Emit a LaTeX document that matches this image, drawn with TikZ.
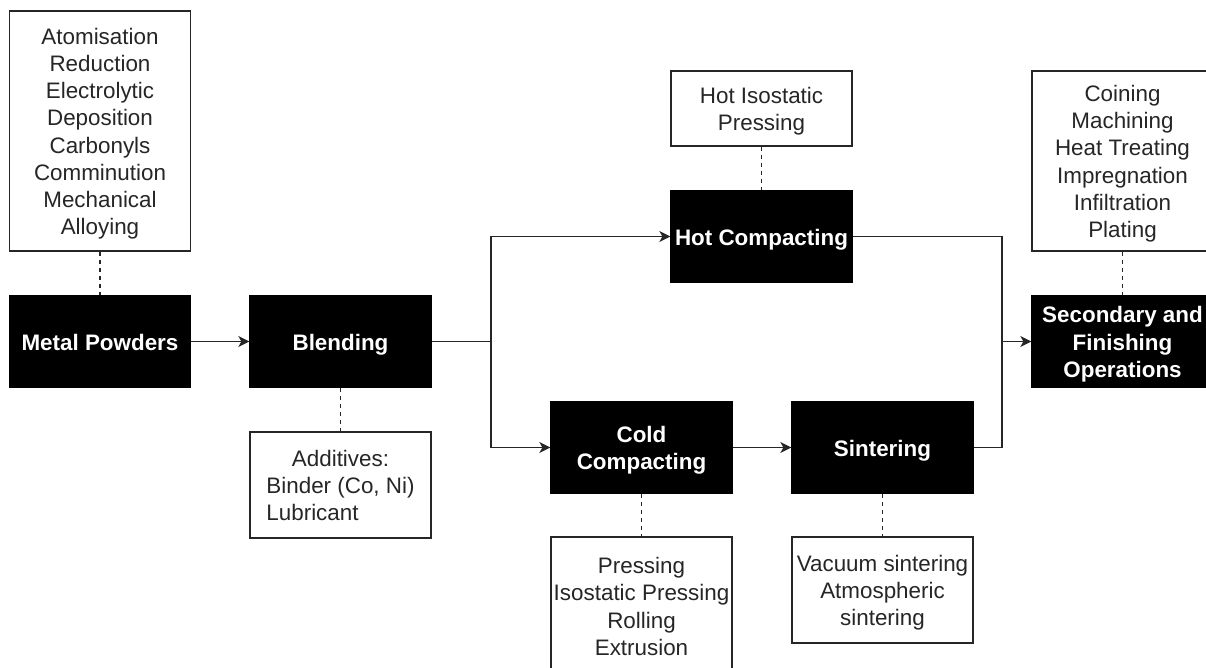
\documentclass[tikz,border=0pt]{standalone}
\usepackage{fontspec}
\setmainfont{Liberation Sans}
\usetikzlibrary{arrows.meta}
\newlength\lubw
% struts give every text block the same top and bottom, so lines sit centred on their capitals
\newcommand\tstrut{\rule{0pt}{24pt}}
\newcommand\bstrut{\rule[-7pt]{0pt}{7pt}}
\begin{document}
\begin{tikzpicture}[x=1pt,y=-1pt,
  boxtext/.style={font=\fontsize{22.4}{27.2}\selectfont, align=center, inner sep=0pt},
  stage/.style={boxtext, draw=black, fill=black, text=white,
    font=\fontsize{22.4}{27.2}\selectfont\bfseries,
    minimum width=181pt, minimum height=91pt, line width=1.3pt},
  note/.style={boxtext, draw=black!85, fill=white, text=black!85,
    minimum width=181pt, line width=1.3pt},
  plain/.style={line width=1.3pt, draw=black!85},
  flow/.style={plain, -{Stealth[length=11pt,width=11pt,inset=3pt]}},
  link/.style={line width=1.3pt, draw=black!85, dash pattern=on 4pt off 4pt},
]
\fill[white] (0,0) rectangle (1206,668);
\useasboundingbox (0,0) rectangle (1206,668);

% main process stages
\node[stage] (metal) at (100,341.5)   {\tstrut Metal Powders\bstrut};
\node[stage] (blend) at (340.5,341.5) {\tstrut Blending\bstrut};
\node[stage] (hot)   at (761.5,236.5) {\tstrut Hot Compacting\bstrut};
\node[stage] (cold)  at (641.5,447.5) {\tstrut Cold\\Compacting\bstrut};
\node[stage] (sint)  at (882.5,447.5) {\tstrut Sintering\bstrut};
\node[stage] (sec)   at (1122.5,341.5) {\tstrut Secondary and\\Finishing\\Operations\bstrut};

% annotation boxes
\node[note, minimum height=240pt] (powd) at (100,131)
  {\tstrut Atomisation\\Reduction\\Electrolytic\\Deposition\\Carbonyls\\Comminution\\Mechanical\\Alloying\bstrut};
\node[note, minimum height=106pt] (addv) at (340.5,485)
  {\tstrut Additives:\\Binder (Co, Ni)\\\settowidth{\lubw}{Binder (Co, Ni)}\makebox[\lubw][l]{Lubricant}\bstrut};
\node[note, minimum height=75pt] (hip) at (761.5,108.5) {\tstrut Hot Isostatic\\Pressing\bstrut};
\node[note, minimum height=138pt] (cmeth) at (641.5,606)
  {\tstrut Pressing\\Isostatic Pressing\\Rolling\\Extrusion\bstrut};
\node[note, minimum height=106pt] (smeth) at (882.5,590)
  {\tstrut Vacuum sintering\\Atmospheric\\sintering\bstrut};
\node[note, minimum height=180pt] (fin) at (1122.5,161)
  {\tstrut Coining\\Machining\\Heat Treating\\Impregnation\\Infiltration\\Plating\bstrut};

% dashed links to annotations
\draw[link] (powd.south) -- (metal.north);
\draw[link] (blend.south) -- (addv.north);
\draw[link] (hip.south) -- (hot.north);
\draw[link] (cold.south) -- (cmeth.north);
\draw[link] (sint.south) -- (smeth.north);
\draw[link] (fin.south) -- (sec.north);

% process flow
\coordinate (split) at (491,341.5);
\coordinate (merge) at (1002,341.5);
\draw[flow] (metal) -- (blend);
\draw[plain] (blend.east) -- (split);
\draw[flow] (split) |- (hot.west);
\draw[flow] (split) |- (cold.west);
\draw[flow] (cold) -- (sint);
\draw[plain] (sint.east) -| (merge);
\draw[flow] (hot.east) -| (merge) -- (sec.west);
\end{tikzpicture}
\end{document}
